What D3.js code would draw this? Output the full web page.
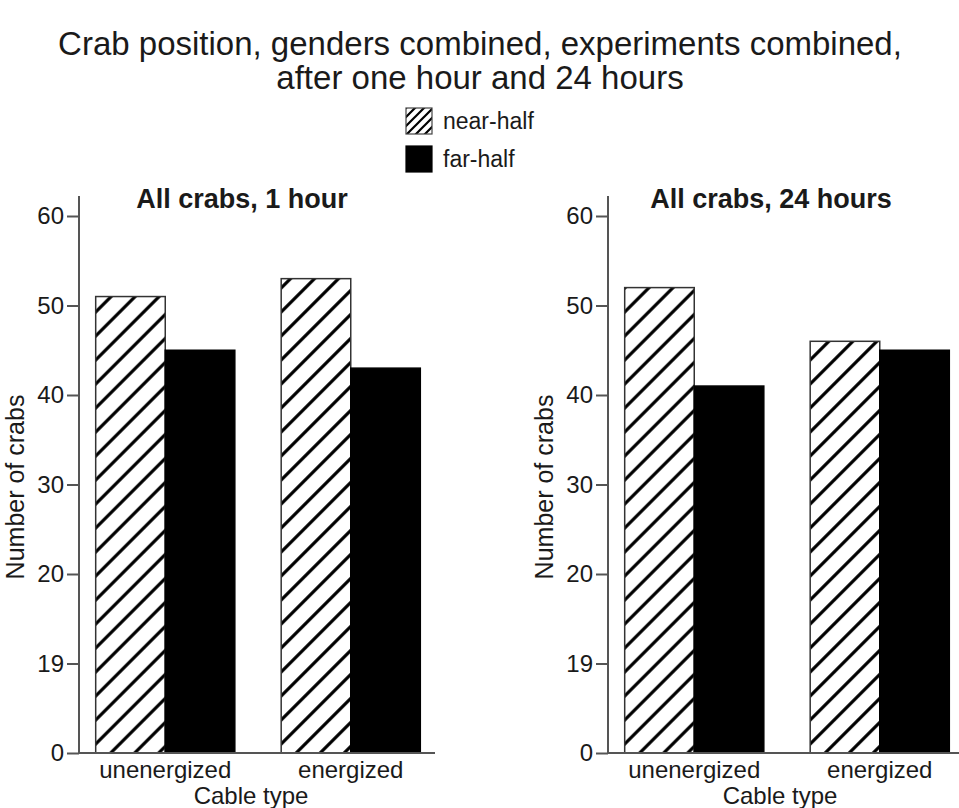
<!DOCTYPE html>
<html>
<head>
<meta charset="utf-8">
<script src="https://cdn.jsdelivr.net/npm/d3@7"></script>
<style>
    body { margin: 0; background: #fff; }
    text { font-family: "Liberation Sans", Arial, sans-serif; fill: #1a1a1a; }
</style>
</head>
<body>
<svg id="chart" width="959" height="808"></svg>
<script>
"use strict";

var categories = ["unenergized", "energized"],
    seriesNames = ["near-half", "far-half"],
    panelTitles = ["All crabs, 1 hour", "All crabs, 24 hours"],
    nearHalf1h = [51, 53],
    farHalf1h = [45, 43],
    nearHalf24h = [52, 46],
    farHalf24h = [41, 45],
    tickValues = [0, 10, 20, 30, 40, 50, 60],
    tickLabels = ["0", "19", "20", "30", "40", "50", "60"];

var AXIS_COLOR = "#555",
    BASE_Y = 753,
    TOP_Y = 216,
    PANEL_W = 358;

var svg = d3.select("#chart");

// diagonal hatch: one for the bars, a finer one for the legend swatch
var defs = svg.append("defs");
function addHatch(id, size, width) {
    var s = size, q = size / 4;
    defs.append("pattern")
        .attr("id", id)
        .attr("patternUnits", "userSpaceOnUse")
        .attr("width", s)
        .attr("height", s)
        .append("path")
        .attr("d", "M" + (-q) + "," + q + " L" + q + "," + (-q) +
            " M0," + s + " L" + s + ",0" +
            " M" + (s - q) + "," + (s + q) + " L" + (s + q) + "," + (s - q))
        .attr("stroke", "#000")
        .attr("stroke-width", width);
}
addHatch("hatch", 24, 3.2);
addHatch("hatch-small", 9, 2.2);

// main title
svg.append("text")
    .attr("x", 480).attr("y", 55)
    .attr("text-anchor", "middle")
    .attr("font-size", 33)
    .text("Crab position, genders combined, experiments combined,");
svg.append("text")
    .attr("x", 480).attr("y", 89)
    .attr("text-anchor", "middle")
    .attr("font-size", 33)
    .text("after one hour and 24 hours");

// legend
var legend = svg.append("g").attr("transform", "translate(406,108)");
seriesNames.forEach(function (name, i) {
    var row = legend.append("g").attr("transform", "translate(0," + (i * 38) + ")");
    row.append("rect")
        .attr("width", 26).attr("height", 26)
        .attr("fill", i === 0 ? "url(#hatch-small)" : "#000")
        .attr("stroke", i === 0 ? "#444" : "#000")
        .attr("stroke-width", 1.2);
    row.append("text")
        .attr("x", 37).attr("y", 21)
        .attr("font-size", 23)
        .text(name);
});

function drawPanel(axisX, title, nearVals, farVals) {
    var g = svg.append("g"),
        y = d3.scaleLinear().domain([0, 60]).range([BASE_Y, TOP_Y]),
        x0 = d3.scaleBand().domain(categories).range([axisX, axisX + PANEL_W])
            .paddingInner(0.25).paddingOuter(0.09),
        x1 = d3.scaleBand().domain(seriesNames).range([0, x0.bandwidth()]),
        rows = categories.map(function (c, i) {
            return { cat: c, values: [nearVals[i], farVals[i]] };
        }),
        yAxis = d3.axisLeft(y)
            .tickValues(tickValues)
            .tickSize(12)
            .tickPadding(3)
            .tickFormat(function (d, i) { return tickLabels[i]; });

    // bars
    g.selectAll(".group").data(rows).enter().append("g")
        .attr("class", "group")
        .attr("transform", function (d) { return "translate(" + x0(d.cat) + ",0)"; })
        .selectAll("rect")
        .data(function (d) {
            return d.values.map(function (v, i) { return { key: seriesNames[i], value: v }; });
        })
        .enter().append("rect")
        .attr("x", function (d) { return x1(d.key); })
        .attr("y", function (d) { return y(d.value); })
        .attr("width", x1.bandwidth())
        .attr("height", function (d) { return BASE_Y - y(d.value); })
        .attr("fill", function (d) { return d.key === "near-half" ? "url(#hatch)" : "#000"; })
        .attr("stroke", function (d) { return d.key === "near-half" ? "#333" : "#000"; })
        .attr("stroke-width", 1.5);

    // y axis
    var ya = g.append("g")
        .attr("transform", "translate(" + axisX + ",0)")
        .call(yAxis);
    ya.select(".domain").remove();
    ya.append("line")
        .attr("x1", 0).attr("x2", 0)
        .attr("y1", 196).attr("y2", BASE_Y)
        .attr("stroke", AXIS_COLOR).attr("stroke-width", 2);
    ya.selectAll(".tick line").attr("stroke", AXIS_COLOR).attr("stroke-width", 2);
    ya.selectAll(".tick text")
        .attr("font-size", 24)
        .attr("fill", "#222")
        .style("font-family", "'Liberation Sans', Arial, sans-serif");

    // baseline
    g.append("line")
        .attr("x1", axisX).attr("x2", axisX + PANEL_W - 2)
        .attr("y1", BASE_Y).attr("y2", BASE_Y)
        .attr("stroke", AXIS_COLOR).attr("stroke-width", 2);

    // category labels
    g.selectAll(".cat").data(categories).enter().append("text")
        .attr("class", "cat")
        .attr("x", function (d) { return x0(d) + x0.bandwidth() / 2; })
        .attr("y", 778)
        .attr("text-anchor", "middle")
        .attr("font-size", 24)
        .text(function (d) { return d; });

    g.append("text")
        .attr("x", axisX + 172).attr("y", 804)
        .attr("text-anchor", "middle")
        .attr("font-size", 24)
        .text("Cable type");

    g.append("text")
        .attr("transform", "translate(" + (axisX - 55) + "," + 487 + ") rotate(-90)")
        .attr("text-anchor", "middle")
        .attr("font-size", 25)
        .text("Number of crabs");

    g.append("text")
        .attr("x", axisX + 163).attr("y", 208)
        .attr("text-anchor", "middle")
        .attr("font-size", 27)
        .attr("font-weight", "bold")
        .text(title);
}

drawPanel(79, panelTitles[0], nearHalf1h, farHalf1h);
drawPanel(608, panelTitles[1], nearHalf24h, farHalf24h);
</script>
</body>
</html>
